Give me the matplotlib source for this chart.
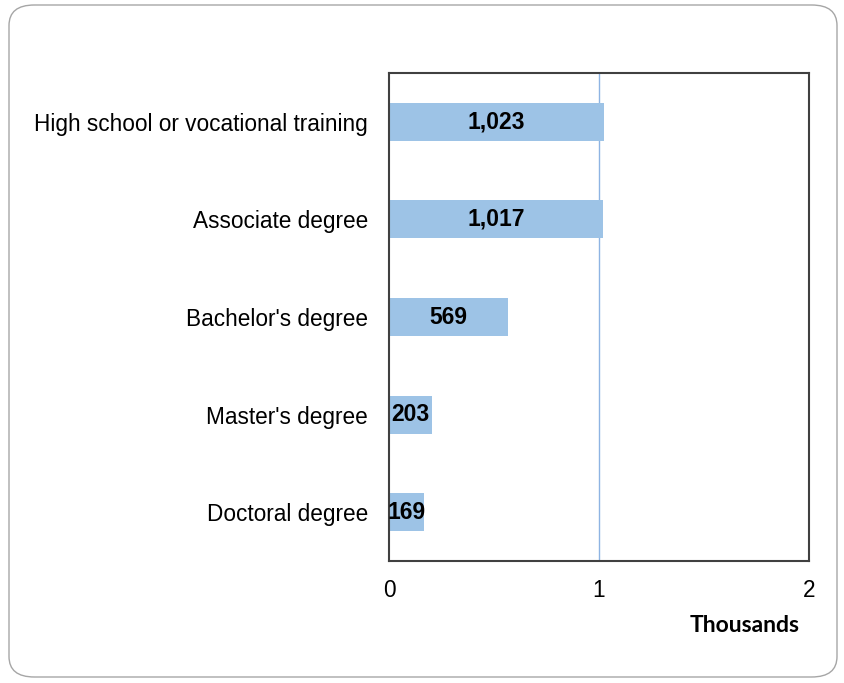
import matplotlib
matplotlib.use("Agg")
import matplotlib.pyplot as plt
from matplotlib.patches import FancyBboxPatch

categories = ["High school or vocational training", "Associate degree",
              "Bachelor's degree", "Master's degree", "Doctoral degree"]
values = [1.023, 1.017, 0.569, 0.203, 0.169]   # thousands
labels = ["1,023", "1,017", "569", "203", "169"]
xticks = [0, 1, 2]

plt.rcParams['font.family'] = ['Liberation Sans', 'DejaVu Sans']

fig = plt.figure(figsize=(8.44, 6.83), dpi=100)
ax = fig.add_axes([389/844, 1 - 561/683, 420/844, 488/683])

# rounded outer frame
frame = FancyBboxPatch((9/844, 6/683), 828/844, 672/683,
                       boxstyle="round,pad=0,rounding_size=0.03",
                       transform=fig.transFigure, facecolor='none',
                       edgecolor='#a6a6a6', linewidth=1.0)
fig.patches.append(frame)

ypos = list(range(len(categories)))
ax.barh(ypos, values, height=0.39, color='#9dc3e6', zorder=2)
for y, v, lab in zip(ypos, values, labels):
    ax.text(v / 2, y, lab, ha='center', va='center', fontsize=16.5,
            fontweight='bold', color='black', zorder=3)

ax.set_xlim(0, 2)
ax.set_ylim(4.5, -0.5)
ax.set_yticks(ypos)
ax.set_yticklabels(categories, fontsize=16.3)
ax.set_xticks(xticks)
ax.set_xticklabels([str(t) for t in xticks], fontsize=16.3)
ax.tick_params(axis='both', length=0)
ax.tick_params(axis='y', pad=15)
ax.tick_params(axis='x', pad=13)
ax.axvline(1, color='#8eb4e3', linewidth=1.0, zorder=1)
for s in ax.spines.values():
    s.set_color('#404040')
    s.set_linewidth(1.5)

fig.text(745/844, 1 - 626/683, "Thousands", ha='center', va='center',
         fontsize=16.5, fontweight='bold', family=['Lato', 'DejaVu Sans'])

fig.savefig("out.png", dpi=100)
